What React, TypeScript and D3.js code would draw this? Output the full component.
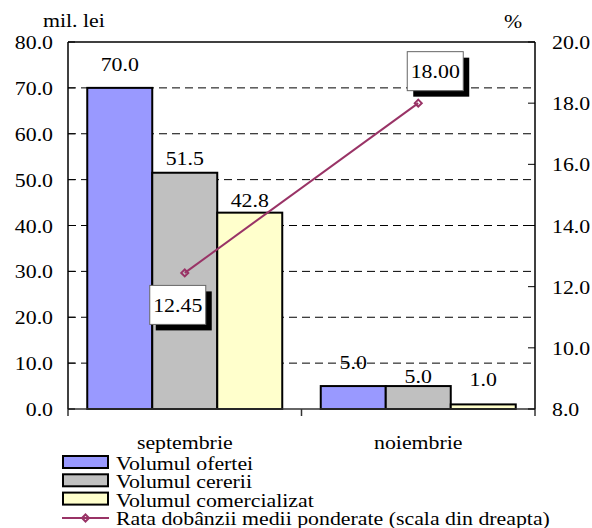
import React from 'react';
import * as d3 from 'd3';

const categories = ['septembrie', 'noiembrie'];
const seriesNames = ['Volumul ofertei', 'Volumul cererii', 'Volumul comercializat'];
const oferta = [70.0, 5.0];
const cererea = [51.5, 5.0];
const comercializat = [42.8, 1.0];
const rata = [12.45, 18.0];
const rataName = 'Rata dobânzii medii ponderate (scala din dreapta)';
const leftTicks = [0, 10, 20, 30, 40, 50, 60, 70, 80];
const rightTicks = [8, 10, 12, 14, 16, 18, 20];

const barColors = ['#9999ff', '#c0c0c0', '#ffffcc'];
const lineColor = '#993366';
// how far each value label sits above its bar (hand placed in the original)
const labelLift = [[17, 8, 6], [17, 3, 18]];
// offset of the line's data label boxes from their points
const boxShift = [[-7, 32], [17, -32]];

const W = 592;
const H = 528;
const m = { left: 68, right: 535, top: 42, bottom: 409 };
const font = 'Liberation Serif';
const FS = 19.5;
const SX = 1.12; // the original text is stretched sideways

type TProps = { x: number; y: number; anchor?: string; size?: number; children: React.ReactNode };
const T = ({ x, y, anchor = 'start', size = FS, children }: TProps) => (
  <text transform={`translate(${x},${y}) scale(${SX},1)`} textAnchor={anchor} fontSize={size}
    style={{ fontFamily: font }} fill="#000">
    {children}
  </text>
);

export default function App() {
  const series = [oferta, cererea, comercializat];

  const x0 = d3.scaleBand().domain(categories).range([m.left, m.right]).paddingInner(0).paddingOuter(0);
  const bw = 65;
  const groupPad = (x0.bandwidth() - bw * 3) / 2;
  const yL = d3.scaleLinear().domain([0, 80]).range([m.bottom, m.top]);
  const yR = d3.scaleLinear().domain([8, 20]).range([m.bottom, m.top]);

  const cx = (c: string) => (x0(c) as number) + x0.bandwidth() / 2;
  const linePts: [number, number][] = categories.map((c, i) => [cx(c), yR(rata[i])]);
  const line = d3.line();

  const diamond = (x: number, y: number, r = 3.5) =>
    `M${x},${y - r}L${x + r},${y}L${x},${y + r}L${x - r},${y}Z`;

  return (
    <svg width={W} height={H} style={{ position: 'absolute', left: 0, top: 0 }}>
      <rect width={W} height={H} fill="#fff" />

      {/* gridlines */}
      {leftTicks.filter(t => t > 0 && t < 80).map(t => (
        <line key={'g' + t} x1={m.left} x2={m.right} y1={yL(t)} y2={yL(t)}
          stroke="#000" strokeWidth={1} strokeDasharray="8,5" />
      ))}

      {/* bars */}
      {categories.map((c, ci) =>
        series.map((s, si) => {
          const x = (x0(c) as number) + groupPad + si * bw;
          return (
            <rect key={c + si} x={x} y={yL(s[ci])} width={bw} height={m.bottom - yL(s[ci])}
              fill={barColors[si]} stroke="#000" strokeWidth={2} />
          );
        })
      )}

      {/* bar value labels */}
      {categories.map((c, ci) =>
        series.map((s, si) => {
          const x = (x0(c) as number) + groupPad + si * bw + bw / 2;
          return (
            <T key={'l' + c + si} x={x} y={yL(s[ci]) - labelLift[ci][si]} anchor="middle">
              {s[ci].toFixed(1)}
            </T>
          );
        })
      )}

      {/* frame / axes */}
      <line x1={m.left} x2={m.right} y1={m.top} y2={m.top} stroke="#000" strokeWidth={1.5} />
      <line x1={m.left} x2={m.left} y1={m.top} y2={m.bottom} stroke="#000" strokeWidth={1.5} />
      <line x1={m.right} x2={m.right} y1={m.top} y2={m.bottom} stroke="#000" strokeWidth={1.5} />
      <line x1={m.left} x2={m.right} y1={m.bottom} y2={m.bottom} stroke="#333" strokeWidth={1.5} />

      {/* category separators */}
      {[...categories.map(c => x0(c) as number), m.right].map((x, i) => (
        <line key={'s' + i} x1={x} x2={x} y1={m.bottom} y2={m.bottom + 7} stroke="#333" strokeWidth={1.5} />
      ))}

      {/* left axis */}
      {leftTicks.map(t => (
        <g key={'lt' + t}>
          <line x1={m.left} x2={m.left + 7} y1={yL(t)} y2={yL(t)} stroke="#000" strokeWidth={1} />
          <T x={53} y={yL(t) + 7} anchor="end">{t.toFixed(1)}</T>
        </g>
      ))}

      {/* right axis */}
      {rightTicks.map(t => (
        <g key={'rt' + t}>
          <line x1={m.right - 7} x2={m.right} y1={yR(t)} y2={yR(t)} stroke="#000" strokeWidth={1} />
          <T x={552} y={yR(t) + 7}>{t.toFixed(1)}</T>
        </g>
      ))}

      <T x={43} y={27}>mil. lei</T>
      <T x={504} y={28}>%</T>

      {/* category labels */}
      {categories.map(c => (
        <T key={'c' + c} x={cx(c)} y={449} anchor="middle">{c}</T>
      ))}

      {/* rate line */}
      <path d={line(linePts) || ''} fill="none" stroke={lineColor} strokeWidth={2} />
      {linePts.map(([x, y], i) => (
        <path key={'d' + i} d={diamond(x, y)} fill="none" stroke={lineColor} strokeWidth={2} />
      ))}

      {/* rate data label boxes */}
      {linePts.map(([x, y], i) => {
        const bx = x + boxShift[i][0];
        const by = y + boxShift[i][1];
        const w = 56;
        const h = 39;
        return (
          <g key={'b' + i}>
            <rect x={bx - w / 2 + 6} y={by - h / 2 + 6} width={w} height={h} fill="#000" />
            <rect x={bx - w / 2} y={by - h / 2} width={w} height={h} fill="#fff" stroke="#666" strokeWidth={1} />
            <T x={bx} y={by + 7} anchor="middle">{rata[i].toFixed(2)}</T>
          </g>
        );
      })}

      {/* legend */}
      {seriesNames.map((n, i) => {
        const cy = 463 + i * 18.3;
        return (
          <g key={'lg' + i}>
            <rect x={63} y={cy - 7} width={45} height={12} fill={barColors[i]} stroke="#000" strokeWidth={2} />
            <T x={116} y={cy + 7}>{n}</T>
          </g>
        );
      })}
      <g>
        <line x1={62} x2={109} y1={518} y2={518} stroke={lineColor} strokeWidth={2} />
        <path d={diamond(85.5, 518)} fill="none" stroke={lineColor} strokeWidth={2} />
        <T x={116} y={525}>{rataName}</T>
      </g>
    </svg>
  );
}
